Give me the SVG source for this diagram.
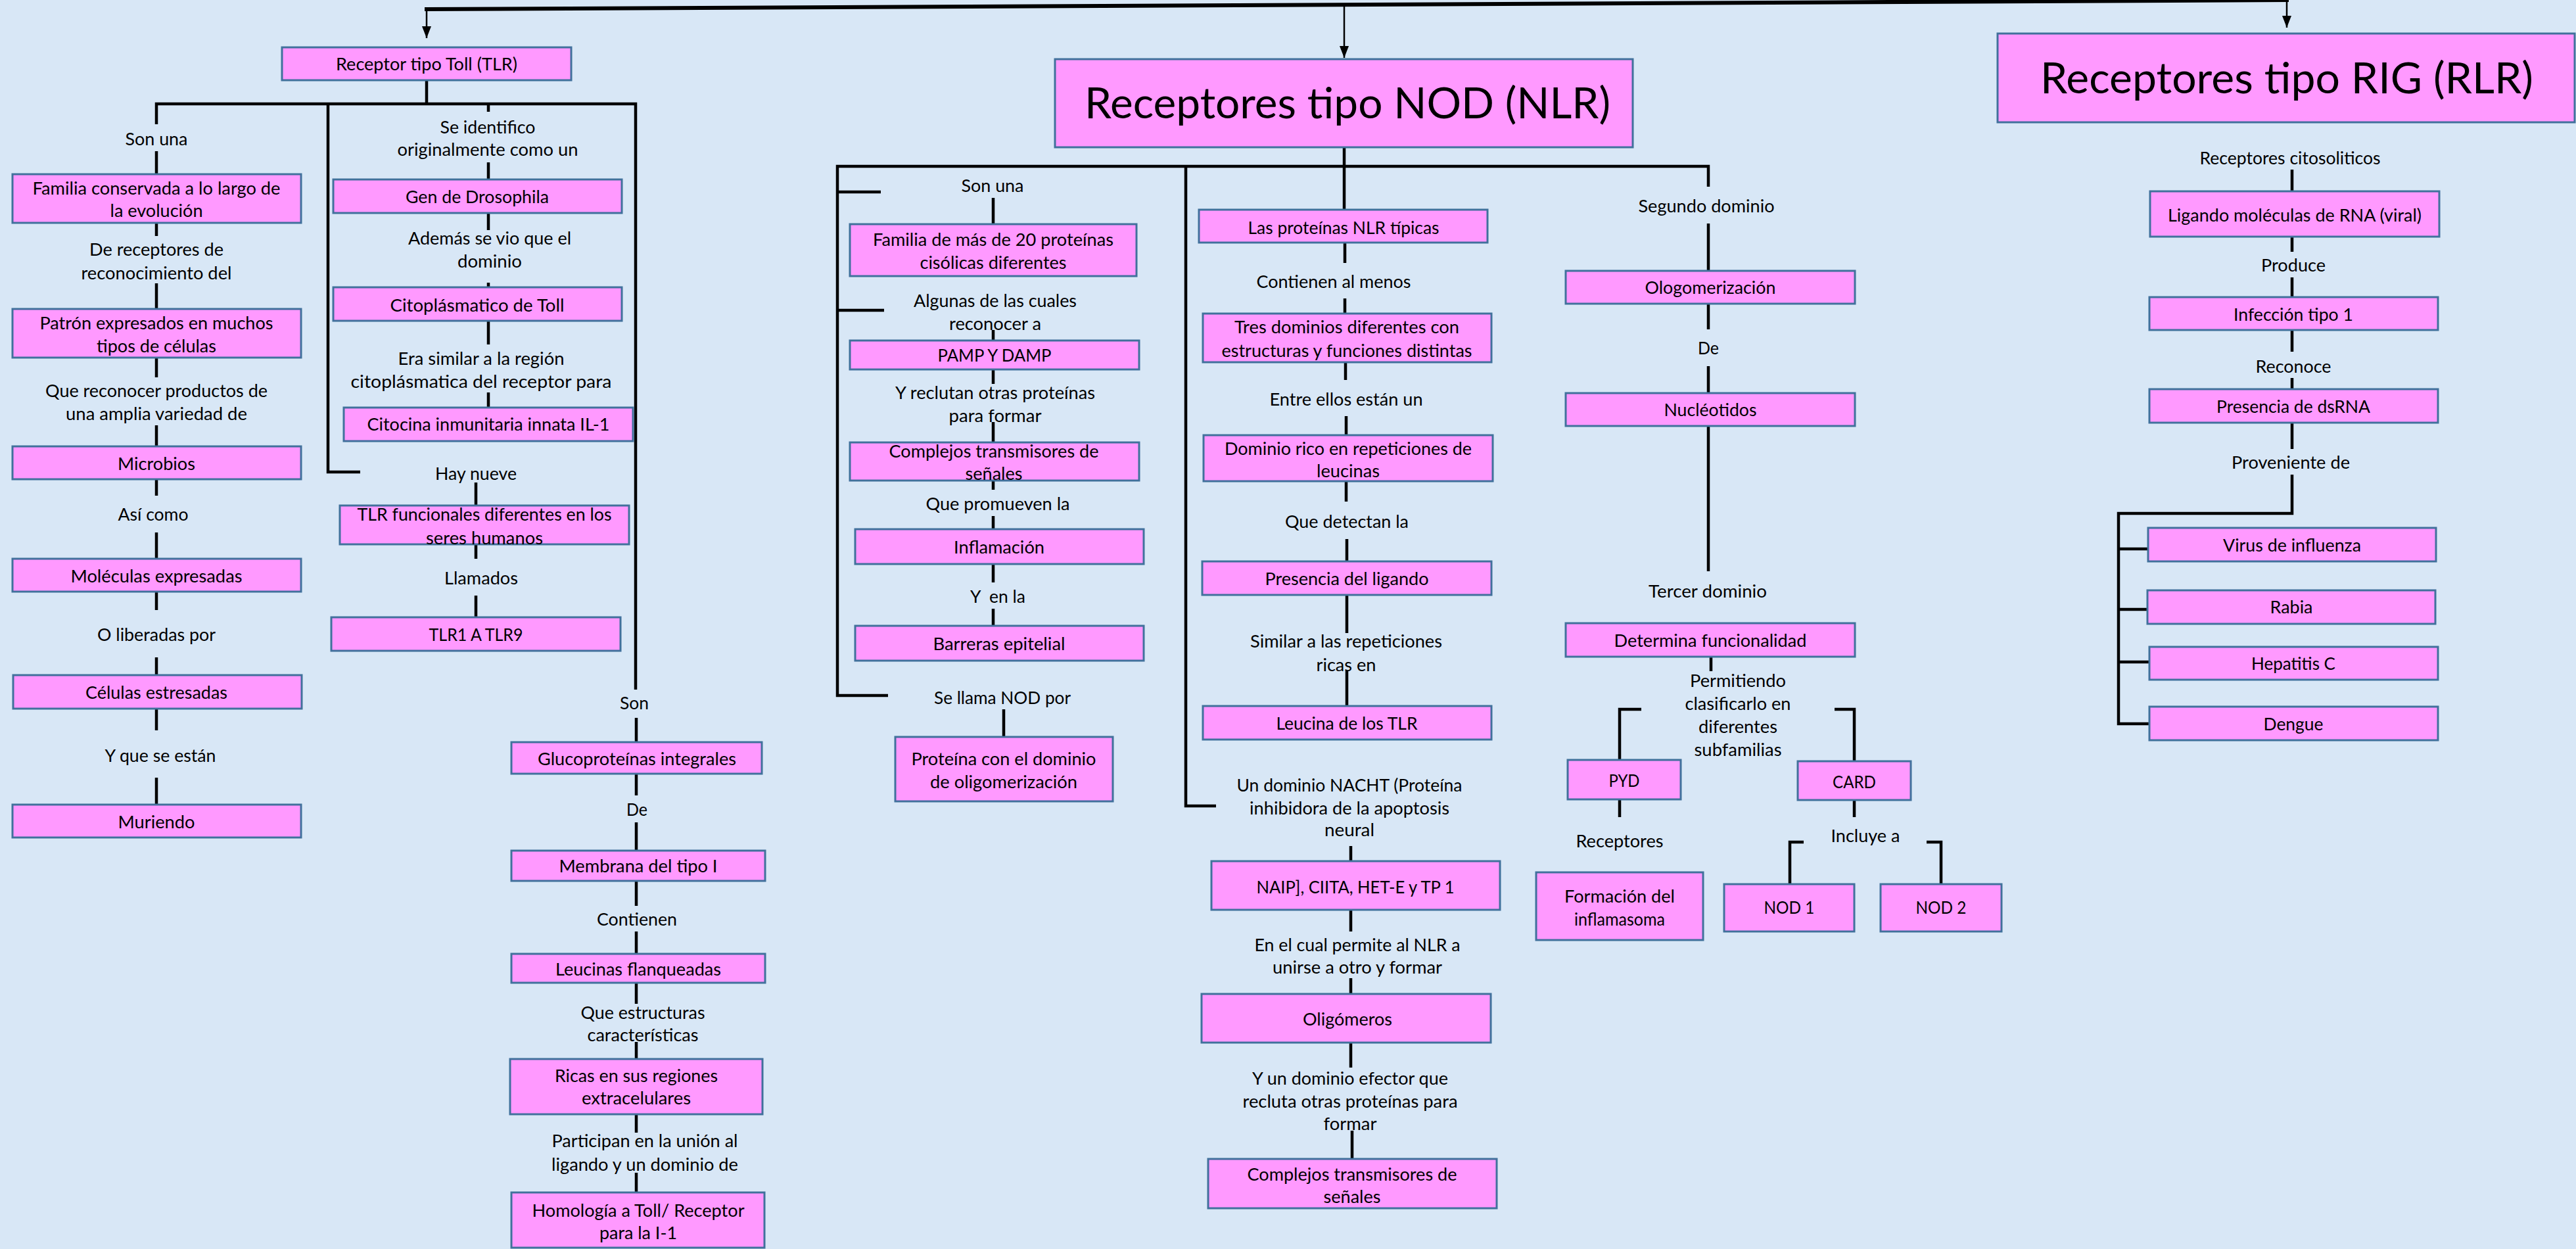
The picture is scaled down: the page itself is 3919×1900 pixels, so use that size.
<svg xmlns="http://www.w3.org/2000/svg" width="3919" height="1900" viewBox="0 0 3919 1900">
<defs>
<marker id="ah" viewBox="0 0 18 14" refX="18" refY="7" markerWidth="18" markerHeight="14" markerUnits="userSpaceOnUse" orient="auto">
<path d="M0,0 L18,7 L0,14 Z" fill="#000"/>
</marker>
<style>
.bg{fill:#d8e7f6}
.box{fill:#ff99ff;stroke:#41719c;stroke-width:3}
.t{font-family:Lato,"Liberation Sans",sans-serif;font-size:26.5px;text-anchor:middle;dominant-baseline:central;fill:#000}
.big{font-family:Lato,"Liberation Sans",sans-serif;font-size:66px;text-anchor:middle;fill:#000}
.c{stroke:#000;stroke-width:4.5;fill:none;stroke-linecap:butt}
.a{stroke:#000;stroke-width:2.5;fill:none}
.top{stroke:#000;stroke-width:6;fill:none}
</style>
</defs>
<rect class="bg" x="0" y="0" width="3919" height="1900"/>

<g id="connectors">
<path class="top" d="M646,14 L3482,0"/>
<path class="a" d="M649,14 V58" marker-end="url(#ah)"/>
<path class="a" d="M2045,7 V88" marker-end="url(#ah)"/>
<path class="a" d="M3479,1 V42" marker-end="url(#ah)"/>
<path class="c" d="M649,122 V158"/>
<path class="c" d="M238,189 V158 H967 V1049"/>
<path class="c" d="M499,158 V718 H548"/>
<path class="c" d="M743,158 V170"/>
<path class="c" d="M238,230 V265 M238,339 V359 M238,431 V470 M238,544 V574 M238,647 V679 M238,729 V754 M238,810 V850 M238,900 V928 M238,1000 V1027 M238,1078 V1111 M238,1183 V1224"/>
<path class="c" d="M743,247 V273 M743,324 V350 M743,430 V437 M743,488 V524 M743,597 V620"/>
<path class="c" d="M724,734 V769 M724,828 V850 M724,906 V939"/>
<path class="c" d="M968,1092 V1129 M968,1177 V1210 M968,1251 V1294 M968,1340 V1378 M968,1417 V1451 M968,1495 V1527 M968,1585 V1611 M968,1695 V1723 M968,1784 V1814"/>
<path class="c" d="M2045,224 V319"/>
<path class="c" d="M1351,1058 H1274 V253 H2599 V284"/>
<path class="c" d="M1274,292 H1340 M1274,472 H1345"/>
<path class="c" d="M1804,253 V1226 H1850"/>
<path class="c" d="M1511,301 V341 M1511,502 V518 M1511,562 V584 M1511,642 V673 M1511,731 V745 M1511,785 V805 M1511,858 V886 M1511,926 V952 M1527,1079 V1121"/>
<path class="c" d="M2046,369 V400 M2046,454 V477 M2047,551 V578 M2048,633 V662 M2048,732 V763 M2049,820 V854 M2049,905 V963 M2049,1020 V1074 M2055,1287 V1310 M2055,1384 V1417 M2055,1488 V1512 M2055,1586 V1624 M2057,1720 V1763"/>
<path class="c" d="M2599,340 V412 M2599,462 V501 M2599,557 V598 M2599,648 V869 M2603,999 V1021"/>
<path class="c" d="M2497,1079 H2464 V1156 M2791,1079 H2821 V1158 M2464,1216 V1243 M2821,1217 V1243"/>
<path class="c" d="M2744,1281 H2723 V1345 M2931,1281 H2953 V1345"/>
<path class="c" d="M3487,258 V291 M3487,360 V383 M3487,422 V452 M3487,502 V535 M3487,575 V592 M3487,643 V683"/>
<path class="c" d="M3487,722 V781 H3223 V1101 H3270 M3223,835 H3268 M3223,927 H3267 M3223,1007 H3270"/>
</g>

<g id="n-tlr"><rect class="box" x="429" y="72" width="440" height="50"/><text class="t" x="649" y="97" textLength="276" lengthAdjust="spacingAndGlyphs">Receptor tipo Toll (TLR)</text></g>
<g id="n-familia"><rect class="box" x="19" y="265" width="439" height="74"/><text class="t" x="238" y="286" textLength="377" lengthAdjust="spacingAndGlyphs">Familia conservada a lo largo de</text><text class="t" x="238" y="320" textLength="141" lengthAdjust="spacingAndGlyphs">la evolución</text></g>
<g id="n-patron"><rect class="box" x="19" y="470" width="439" height="74"/><text class="t" x="238" y="491" textLength="355" lengthAdjust="spacingAndGlyphs">Patrón expresados en muchos</text><text class="t" x="238" y="526" textLength="182" lengthAdjust="spacingAndGlyphs">tipos de células</text></g>
<g id="n-microbios"><rect class="box" x="19" y="679" width="439" height="50"/><text class="t" x="238" y="705" textLength="118" lengthAdjust="spacingAndGlyphs">Microbios</text></g>
<g id="n-moleculas"><rect class="box" x="19" y="850" width="439" height="50"/><text class="t" x="238" y="876" textLength="261" lengthAdjust="spacingAndGlyphs">Moléculas expresadas</text></g>
<g id="n-celulas"><rect class="box" x="20" y="1027" width="439" height="51"/><text class="t" x="238" y="1053" textLength="216" lengthAdjust="spacingAndGlyphs">Células estresadas</text></g>
<g id="n-muriendo"><rect class="box" x="19" y="1224" width="439" height="50"/><text class="t" x="238" y="1250" textLength="117" lengthAdjust="spacingAndGlyphs">Muriendo</text></g>
<g id="n-gen"><rect class="box" x="507" y="273" width="439" height="51"/><text class="t" x="726" y="299" textLength="218" lengthAdjust="spacingAndGlyphs">Gen de Drosophila</text></g>
<g id="n-citoplasm"><rect class="box" x="507" y="437" width="439" height="51"/><text class="t" x="726" y="464" textLength="265" lengthAdjust="spacingAndGlyphs">Citoplásmatico de Toll</text></g>
<g id="n-citocina"><rect class="box" x="523" y="620" width="440" height="51"/><text class="t" x="743" y="645" textLength="369" lengthAdjust="spacingAndGlyphs">Citocina inmunitaria innata IL-1</text></g>
<g id="n-tlrfunc"><rect class="box" x="517" y="769" width="440" height="59"/><text class="t" x="737" y="782" textLength="387" lengthAdjust="spacingAndGlyphs">TLR funcionales diferentes en los</text><text class="t" x="737" y="818" textLength="178" lengthAdjust="spacingAndGlyphs">seres humanos</text></g>
<g id="n-tlr19"><rect class="box" x="504" y="939" width="440" height="51"/><text class="t" x="724" y="965" textLength="143" lengthAdjust="spacingAndGlyphs">TLR1 A TLR9</text></g>
<g id="n-gluco"><rect class="box" x="778" y="1129" width="381" height="48"/><text class="t" x="969" y="1154" textLength="302" lengthAdjust="spacingAndGlyphs">Glucoproteínas integrales</text></g>
<g id="n-membrana"><rect class="box" x="778" y="1294" width="386" height="46"/><text class="t" x="971" y="1317" textLength="241" lengthAdjust="spacingAndGlyphs">Membrana del tipo I</text></g>
<g id="n-leucinas"><rect class="box" x="778" y="1451" width="386" height="44"/><text class="t" x="971" y="1474" textLength="252" lengthAdjust="spacingAndGlyphs">Leucinas flanqueadas</text></g>
<g id="n-ricas"><rect class="box" x="776" y="1611" width="384" height="84"/><text class="t" x="968" y="1636" textLength="248" lengthAdjust="spacingAndGlyphs">Ricas en sus regiones</text><text class="t" x="968" y="1670" textLength="166" lengthAdjust="spacingAndGlyphs">extracelulares</text></g>
<g id="n-homologia"><rect class="box" x="778" y="1814" width="385" height="84"/><text class="t" x="971" y="1841" textLength="323" lengthAdjust="spacingAndGlyphs">Homología a Toll/ Receptor</text><text class="t" x="971" y="1875" textLength="118" lengthAdjust="spacingAndGlyphs">para la I-1</text></g>

<g id="l-tlr-1"><text class="t" x="238" y="211" textLength="95" lengthAdjust="spacingAndGlyphs">Son una</text></g>
<g id="l-tlr-2"><text class="t" x="238" y="379" textLength="204" lengthAdjust="spacingAndGlyphs">De receptores de</text><text class="t" x="238" y="415" textLength="229" lengthAdjust="spacingAndGlyphs">reconocimiento del</text></g>
<g id="l-tlr-3"><text class="t" x="238" y="594" textLength="338" lengthAdjust="spacingAndGlyphs">Que reconocer productos de</text><text class="t" x="238" y="629" textLength="276" lengthAdjust="spacingAndGlyphs">una amplia variedad de</text></g>
<g id="l-tlr-4"><text class="t" x="233" y="782" textLength="107" lengthAdjust="spacingAndGlyphs">Así como</text></g>
<g id="l-tlr-5"><text class="t" x="238" y="965" textLength="180" lengthAdjust="spacingAndGlyphs">O liberadas por</text></g>
<g id="l-tlr-6"><text class="t" x="244" y="1149" textLength="169" lengthAdjust="spacingAndGlyphs">Y que se están</text></g>
<g id="l-tlr-7"><text class="t" x="742" y="193" textLength="145" lengthAdjust="spacingAndGlyphs">Se identifico</text><text class="t" x="742" y="227" textLength="275" lengthAdjust="spacingAndGlyphs">originalmente como un</text></g>
<g id="l-tlr-8"><text class="t" x="745" y="362" textLength="248" lengthAdjust="spacingAndGlyphs">Además se vio que el</text><text class="t" x="745" y="397" textLength="98" lengthAdjust="spacingAndGlyphs">dominio</text></g>
<g id="l-tlr-9"><text class="t" x="732" y="545" textLength="253" lengthAdjust="spacingAndGlyphs">Era similar a la región</text><text class="t" x="732" y="580" textLength="397" lengthAdjust="spacingAndGlyphs">citoplásmatica del receptor para</text></g>
<g id="l-tlr-10"><text class="t" x="724" y="720" textLength="124" lengthAdjust="spacingAndGlyphs">Hay nueve</text></g>
<g id="l-tlr-11"><text class="t" x="732" y="879" textLength="112" lengthAdjust="spacingAndGlyphs">Llamados</text></g>
<g id="l-tlr-12"><text class="t" x="965" y="1069" textLength="44" lengthAdjust="spacingAndGlyphs">Son</text></g>
<g id="l-tlr-13"><text class="t" x="969" y="1231" textLength="32" lengthAdjust="spacingAndGlyphs">De</text></g>
<g id="l-tlr-14"><text class="t" x="969" y="1398" textLength="122" lengthAdjust="spacingAndGlyphs">Contienen</text></g>
<g id="l-tlr-15"><text class="t" x="978" y="1540" textLength="189" lengthAdjust="spacingAndGlyphs">Que estructuras</text><text class="t" x="978" y="1574" textLength="169" lengthAdjust="spacingAndGlyphs">características</text></g>
<g id="l-tlr-16"><text class="t" x="981" y="1735" textLength="283" lengthAdjust="spacingAndGlyphs">Participan en la unión al</text><text class="t" x="981" y="1771" textLength="284" lengthAdjust="spacingAndGlyphs">ligando y un dominio de</text></g>

<g id="n-nlr"><rect class="box" x="1605" y="90" width="879" height="134"/><text class="big" x="2050" y="180" textLength="800" lengthAdjust="spacingAndGlyphs">Receptores tipo NOD (NLR)</text></g>
<g id="n-familia20"><rect class="box" x="1293" y="341" width="436" height="79"/><text class="t" x="1511" y="364" textLength="366" lengthAdjust="spacingAndGlyphs">Familia de más de 20 proteínas</text><text class="t" x="1511" y="399" textLength="223" lengthAdjust="spacingAndGlyphs">cisólicas diferentes</text></g>
<g id="n-pamp"><rect class="box" x="1293" y="518" width="440" height="44"/><text class="t" x="1513" y="540" textLength="173" lengthAdjust="spacingAndGlyphs">PAMP Y DAMP</text></g>
<g id="n-complejos1"><rect class="box" x="1293" y="673" width="440" height="58"/><text class="t" x="1512" y="686" textLength="319" lengthAdjust="spacingAndGlyphs">Complejos transmisores de</text><text class="t" x="1512" y="720" textLength="87" lengthAdjust="spacingAndGlyphs">señales</text></g>
<g id="n-inflamacion"><rect class="box" x="1301" y="805" width="439" height="53"/><text class="t" x="1520" y="832" textLength="138" lengthAdjust="spacingAndGlyphs">Inflamación</text></g>
<g id="n-barreras"><rect class="box" x="1301" y="952" width="439" height="53"/><text class="t" x="1520" y="979" textLength="201" lengthAdjust="spacingAndGlyphs">Barreras epitelial</text></g>
<g id="n-proteina"><rect class="box" x="1362" y="1121" width="331" height="98"/><text class="t" x="1527" y="1154" textLength="281" lengthAdjust="spacingAndGlyphs">Proteína con el dominio</text><text class="t" x="1527" y="1189" textLength="224" lengthAdjust="spacingAndGlyphs">de oligomerización</text></g>
<g id="n-nlrtipicas"><rect class="box" x="1824" y="319" width="439" height="50"/><text class="t" x="2044" y="346" textLength="291" lengthAdjust="spacingAndGlyphs">Las proteínas NLR típicas</text></g>
<g id="n-tres"><rect class="box" x="1830" y="477" width="439" height="74"/><text class="t" x="2049" y="497" textLength="342" lengthAdjust="spacingAndGlyphs">Tres dominios diferentes con</text><text class="t" x="2049" y="533" textLength="381" lengthAdjust="spacingAndGlyphs">estructuras y funciones distintas</text></g>
<g id="n-dominio"><rect class="box" x="1831" y="662" width="440" height="70"/><text class="t" x="2051" y="682" textLength="376" lengthAdjust="spacingAndGlyphs">Dominio rico en repeticiones de</text><text class="t" x="2051" y="716" textLength="96" lengthAdjust="spacingAndGlyphs">leucinas</text></g>
<g id="n-presencia"><rect class="box" x="1829" y="854" width="440" height="51"/><text class="t" x="2049" y="880" textLength="249" lengthAdjust="spacingAndGlyphs">Presencia del ligando</text></g>
<g id="n-leucina"><rect class="box" x="1830" y="1074" width="439" height="51"/><text class="t" x="2049" y="1100" textLength="215" lengthAdjust="spacingAndGlyphs">Leucina de los TLR</text></g>
<g id="n-naip"><rect class="box" x="1843" y="1310" width="439" height="74"/><text class="t" x="2062" y="1349" textLength="301" lengthAdjust="spacingAndGlyphs">NAIP], CIITA, HET-E y TP 1</text></g>
<g id="n-oligomeros"><rect class="box" x="1828" y="1512" width="440" height="74"/><text class="t" x="2050" y="1550" textLength="136" lengthAdjust="spacingAndGlyphs">Oligómeros</text></g>
<g id="n-complejos2"><rect class="box" x="1838" y="1763" width="439" height="75"/><text class="t" x="2057" y="1786" textLength="319" lengthAdjust="spacingAndGlyphs">Complejos transmisores de</text><text class="t" x="2057" y="1820" textLength="87" lengthAdjust="spacingAndGlyphs">señales</text></g>
<g id="n-ologo"><rect class="box" x="2382" y="412" width="440" height="50"/><text class="t" x="2602" y="437" textLength="199" lengthAdjust="spacingAndGlyphs">Ologomerización</text></g>
<g id="n-nucleo"><rect class="box" x="2382" y="598" width="440" height="50"/><text class="t" x="2602" y="623" textLength="141" lengthAdjust="spacingAndGlyphs">Nucléotidos</text></g>
<g id="n-determina"><rect class="box" x="2382" y="948" width="440" height="51"/><text class="t" x="2602" y="974" textLength="293" lengthAdjust="spacingAndGlyphs">Determina funcionalidad</text></g>
<g id="n-pyd"><rect class="box" x="2385" y="1156" width="172" height="60"/><text class="t" x="2471" y="1187" textLength="47" lengthAdjust="spacingAndGlyphs">PYD</text></g>
<g id="n-card"><rect class="box" x="2735" y="1158" width="172" height="59"/><text class="t" x="2821" y="1189" textLength="66" lengthAdjust="spacingAndGlyphs">CARD</text></g>
<g id="n-formacion"><rect class="box" x="2337" y="1327" width="254" height="103"/><text class="t" x="2464" y="1363" textLength="168" lengthAdjust="spacingAndGlyphs">Formación del</text><text class="t" x="2464" y="1398" textLength="138" lengthAdjust="spacingAndGlyphs">inflamasoma</text></g>
<g id="n-nod1"><rect class="box" x="2623" y="1345" width="198" height="72"/><text class="t" x="2722" y="1380" textLength="77" lengthAdjust="spacingAndGlyphs">NOD 1</text></g>
<g id="n-nod2"><rect class="box" x="2861" y="1345" width="184" height="72"/><text class="t" x="2953" y="1380" textLength="77" lengthAdjust="spacingAndGlyphs">NOD 2</text></g>

<g id="l-nlr-1"><text class="t" x="1510" y="282" textLength="95" lengthAdjust="spacingAndGlyphs">Son una</text></g>
<g id="l-nlr-2"><text class="t" x="1514" y="457" textLength="248" lengthAdjust="spacingAndGlyphs">Algunas de las cuales</text><text class="t" x="1514" y="492" textLength="140" lengthAdjust="spacingAndGlyphs">reconocer a</text></g>
<g id="l-nlr-3"><text class="t" x="1514" y="597" textLength="304" lengthAdjust="spacingAndGlyphs">Y reclutan otras proteínas</text><text class="t" x="1514" y="632" textLength="141" lengthAdjust="spacingAndGlyphs">para formar</text></g>
<g id="l-nlr-4"><text class="t" x="1518" y="766" textLength="219" lengthAdjust="spacingAndGlyphs">Que promueven la</text></g>
<g id="l-nlr-5"><text class="t" x="1518" y="907" textLength="84" lengthAdjust="spacingAndGlyphs">Y&#160; en la</text></g>
<g id="l-nlr-6"><text class="t" x="1525" y="1061" textLength="208" lengthAdjust="spacingAndGlyphs">Se llama NOD por</text></g>
<g id="l-nlr-7"><text class="t" x="2029" y="428" textLength="235" lengthAdjust="spacingAndGlyphs">Contienen al menos</text></g>
<g id="l-nlr-8"><text class="t" x="2048" y="607" textLength="233" lengthAdjust="spacingAndGlyphs">Entre ellos están un</text></g>
<g id="l-nlr-9"><text class="t" x="2049" y="793" textLength="188" lengthAdjust="spacingAndGlyphs">Que detectan la</text></g>
<g id="l-nlr-10"><text class="t" x="2048" y="975" textLength="292" lengthAdjust="spacingAndGlyphs">Similar a las repeticiones</text><text class="t" x="2048" y="1011" textLength="91" lengthAdjust="spacingAndGlyphs">ricas en</text></g>
<g id="l-nlr-11"><text class="t" x="2053" y="1194" textLength="343" lengthAdjust="spacingAndGlyphs">Un dominio NACHT (Proteína</text><text class="t" x="2053" y="1229" textLength="304" lengthAdjust="spacingAndGlyphs">inhibidora de la apoptosis</text><text class="t" x="2053" y="1262" textLength="76" lengthAdjust="spacingAndGlyphs">neural</text></g>
<g id="l-nlr-12"><text class="t" x="2065" y="1437" textLength="313" lengthAdjust="spacingAndGlyphs">En el cual permite al NLR a</text><text class="t" x="2065" y="1471" textLength="258" lengthAdjust="spacingAndGlyphs">unirse a otro y formar</text></g>
<g id="l-nlr-13"><text class="t" x="2054" y="1640" textLength="298" lengthAdjust="spacingAndGlyphs">Y un dominio efector que</text><text class="t" x="2054" y="1675" textLength="327" lengthAdjust="spacingAndGlyphs">recluta otras proteínas para</text><text class="t" x="2054" y="1709" textLength="81" lengthAdjust="spacingAndGlyphs">formar</text></g>
<g id="l-nlr-14"><text class="t" x="2596" y="313" textLength="207" lengthAdjust="spacingAndGlyphs">Segundo dominio</text></g>
<g id="l-nlr-15"><text class="t" x="2599" y="529" textLength="32" lengthAdjust="spacingAndGlyphs">De</text></g>
<g id="l-nlr-16"><text class="t" x="2598" y="899" textLength="180" lengthAdjust="spacingAndGlyphs">Tercer dominio</text></g>
<g id="l-nlr-17"><text class="t" x="2644" y="1035" textLength="146" lengthAdjust="spacingAndGlyphs">Permitiendo</text><text class="t" x="2644" y="1070" textLength="161" lengthAdjust="spacingAndGlyphs">clasificarlo en</text><text class="t" x="2644" y="1105" textLength="120" lengthAdjust="spacingAndGlyphs">diferentes</text><text class="t" x="2644" y="1140" textLength="133" lengthAdjust="spacingAndGlyphs">subfamilias</text></g>
<g id="l-nlr-18"><text class="t" x="2464" y="1279" textLength="133" lengthAdjust="spacingAndGlyphs">Receptores</text></g>
<g id="l-nlr-19"><text class="t" x="2838" y="1271" textLength="105" lengthAdjust="spacingAndGlyphs">Incluye a</text></g>

<g id="n-rlr"><rect class="box" x="3039" y="51" width="878" height="135"/><text class="big" x="3479" y="142" textLength="750" lengthAdjust="spacingAndGlyphs">Receptores tipo RIG (RLR)</text></g>
<g id="n-ligando"><rect class="box" x="3271" y="291" width="440" height="69"/><text class="t" x="3491" y="327" textLength="386" lengthAdjust="spacingAndGlyphs">Ligando moléculas de RNA (viral)</text></g>
<g id="n-infeccion"><rect class="box" x="3270" y="452" width="439" height="50"/><text class="t" x="3489" y="478" textLength="182" lengthAdjust="spacingAndGlyphs">Infección tipo 1</text></g>
<g id="n-dsrna"><rect class="box" x="3270" y="592" width="439" height="51"/><text class="t" x="3489" y="618" textLength="234" lengthAdjust="spacingAndGlyphs">Presencia de dsRNA</text></g>
<g id="n-influenza"><rect class="box" x="3268" y="803" width="438" height="51"/><text class="t" x="3487" y="829" textLength="210" lengthAdjust="spacingAndGlyphs">Virus de influenza</text></g>
<g id="n-rabia"><rect class="box" x="3267" y="898" width="438" height="51"/><text class="t" x="3486" y="923" textLength="65" lengthAdjust="spacingAndGlyphs">Rabia</text></g>
<g id="n-hepatitis"><rect class="box" x="3270" y="984" width="439" height="50"/><text class="t" x="3489" y="1009" textLength="128" lengthAdjust="spacingAndGlyphs">Hepatitis C</text></g>
<g id="n-dengue"><rect class="box" x="3270" y="1075" width="439" height="51"/><text class="t" x="3489" y="1101" textLength="91" lengthAdjust="spacingAndGlyphs">Dengue</text></g>

<g id="l-rlr-1"><text class="t" x="3484" y="240" textLength="275" lengthAdjust="spacingAndGlyphs">Receptores citosoliticos</text></g>
<g id="l-rlr-2"><text class="t" x="3489" y="403" textLength="98" lengthAdjust="spacingAndGlyphs">Produce</text></g>
<g id="l-rlr-3"><text class="t" x="3489" y="557" textLength="115" lengthAdjust="spacingAndGlyphs">Reconoce</text></g>
<g id="l-rlr-4"><text class="t" x="3485" y="703" textLength="180" lengthAdjust="spacingAndGlyphs">Proveniente de</text></g>
</svg>
